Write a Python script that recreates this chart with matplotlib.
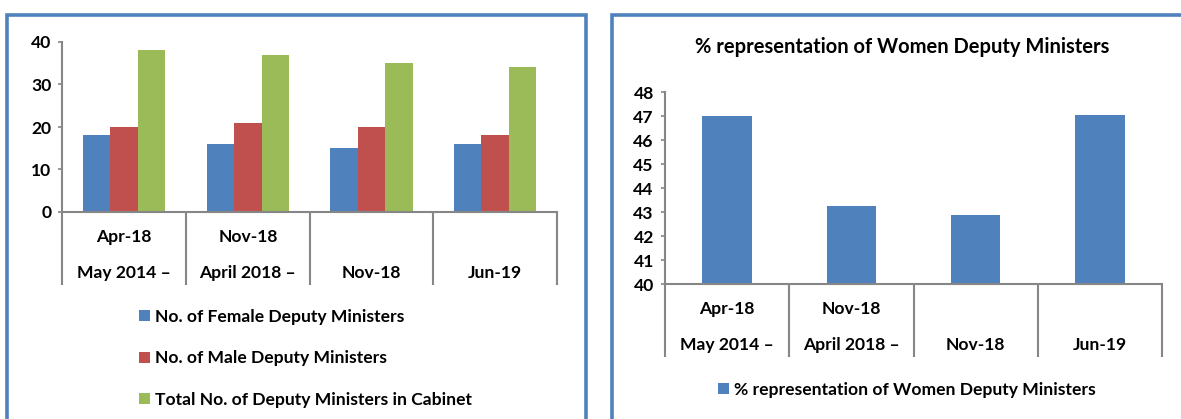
import matplotlib
matplotlib.use("Agg")
import matplotlib.pyplot as plt
from matplotlib.patches import Rectangle

plt.rcParams['font.family'] = ['Lato', 'DejaVu Sans']
plt.rcParams['font.weight'] = 'bold'

periods_top = ['Apr-18', 'Nov-18', '', '']
periods_bottom = ['May 2014 \u2013', 'April 2018 \u2013', 'Nov-18', 'Jun-19']

female = [18, 16, 15, 16]
male = [20, 21, 20, 18]
total = [38, 37, 35, 34]

pct_women = [47.0, 43.24, 42.86, 47.06]

BLUE = '#4F81BD'
RED = '#C0504D'
GREEN = '#9BBB59'
GRID = '#868686'
FS = 12.6

W, H = 1181, 419
fig = plt.figure(figsize=(W / 100, H / 100), dpi=100)


def px_axes(x0, x1, y_top, y_bot):
    return fig.add_axes([x0 / W, 1 - y_bot / H, (x1 - x0) / W, (y_bot - y_top) / H])


def style_axes(ax, n):
    for s in ['top', 'right']:
        ax.spines[s].set_visible(False)
    for s in ['left', 'bottom']:
        ax.spines[s].set_color(GRID)
        ax.spines[s].set_linewidth(1.5)
    ax.set_xlim(0, n)
    ax.set_xticks(range(n + 1))
    ax.set_xticklabels([])
    ax.tick_params(axis='x', length=52.5, width=1.5, color=GRID, direction='out')
    ax.tick_params(axis='y', length=3, width=1.2, color=GRID, labelsize=FS, pad=5)
    for lab in ax.get_yticklabels():
        lab.set_fontweight('bold')
    for i in range(n):
        ax.annotate(periods_top[i], (i + 0.5, 0), xycoords=('data', 'axes fraction'),
                    xytext=(0, -18), textcoords='offset points',
                    ha='center', va='center', fontsize=FS, fontweight='bold')
        ax.annotate(periods_bottom[i], (i + 0.5, 0), xycoords=('data', 'axes fraction'),
                    xytext=(0, -44), textcoords='offset points',
                    ha='center', va='center', fontsize=FS, fontweight='bold')


# left: counts of deputy ministers
ax1 = px_axes(62.4, 557, 42, 212)
n = len(female)
bw = 0.222
xs = [i + 0.5 for i in range(n)]
b1 = ax1.bar([x - bw for x in xs], female, bw, color=BLUE, label='No. of Female Deputy Ministers')
b2 = ax1.bar(xs, male, bw, color=RED, label='No. of Male Deputy Ministers')
b3 = ax1.bar([x + bw for x in xs], total, bw, color=GREEN,
             label='Total No. of Deputy Ministers in Cabinet')
ax1.set_ylim(0, 40)
ax1.set_yticks([0, 10, 20, 30, 40])
style_axes(ax1, n)

fig.legend(handles=[b1, b2, b3], loc='upper left', bbox_to_anchor=(139 / W, 1 - 309 / H),
           frameon=False, prop={'weight': 'bold', 'size': FS},
           handlelength=0.6, handleheight=0.6, handletextpad=0.3,
           labelspacing=1.45, borderpad=0, borderaxespad=0)

# right: share of women
ax2 = px_axes(665, 1162, 92, 284)
b4 = ax2.bar(xs, pct_women, 0.4, color=BLUE, label='% representation of Women Deputy Ministers')
ax2.set_ylim(40, 48)
ax2.set_yticks(range(40, 49))
style_axes(ax2, n)
fig.text(902 / W, 1 - 47 / H, '% representation of Women Deputy Ministers',
         ha='center', va='center', fontsize=14.5, fontweight='bold')
fig.legend(handles=[b4], loc='center left', bbox_to_anchor=(718 / W, 1 - 390 / H),
           frameon=False, prop={'weight': 'bold', 'size': FS},
           handlelength=0.6, handleheight=0.6, handletextpad=0.3,
           borderpad=0, borderaxespad=0)

# panel frames
fig.add_artist(Rectangle((7 / W, -0.1), (586 - 7) / W, 1.1 - 15 / H,
                         transform=fig.transFigure, fill=False, edgecolor=BLUE, linewidth=2.6))
fig.add_artist(Rectangle((612 / W, -0.1), 0.6, 1.1 - 15 / H,
                         transform=fig.transFigure, fill=False, edgecolor=BLUE, linewidth=2.6))

fig.savefig('out.png', dpi=100)
